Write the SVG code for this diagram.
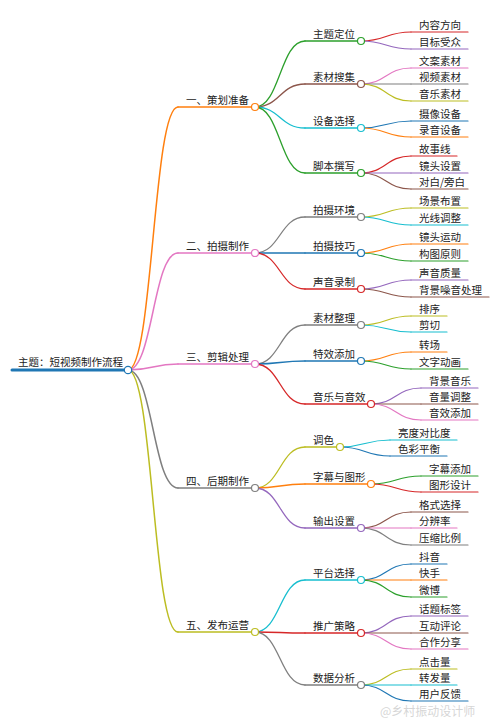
<svg xmlns="http://www.w3.org/2000/svg" width="500" height="721" viewBox="0 0 500 721">
<style>
text{font-family:"Noto Sans CJK SC","Noto Sans",sans-serif;font-size:10.5px;fill:#222}
path{fill:none;stroke-linecap:round}
.l1{stroke-width:1.5}
.l2{stroke-width:1.3}
.l3{stroke-width:1.2}
circle{fill:#fff;stroke-width:1.2}
.blue{stroke:#1f77b4}.orange{stroke:#ff7f0e}.green{stroke:#2ca02c}.red{stroke:#d62728}.purple{stroke:#9467bd}
.brown{stroke:#8c564b}.pink{stroke:#e377c2}.gray{stroke:#7f7f7f}.olive{stroke:#bcbd22}.cyan{stroke:#17becf}
.wm{font-size:12px;fill:#c8c8c8;fill-opacity:0.75}
</style>
<rect width="500" height="721" fill="#fff"/>
<g id="connectors">
<path class="l1 orange" d="M128,370 C153,370 153,107 178,107"/>
<path class="l1 pink" d="M128,370 C153,370 153,253 178,253"/>
<path class="l1 pink" d="M128,370 C153,370 153,364 178,364"/>
<path class="l1 gray" d="M128,370 C153,370 153,488 178,488"/>
<path class="l1 olive" d="M128,370 C153,370 153,632 178,632"/>
<path class="l2 green" d="M255,107 C280,107 280,41 305,41"/>
<path class="l2 brown" d="M255,107 C280,107 280,84 305,84"/>
<path class="l2 cyan" d="M255,107 C280,107 280,128 305,128"/>
<path class="l2 green" d="M255,107 C280,107 280,173 305,173"/>
<path class="l2 gray" d="M255,253 C280,253 280,217 305,217"/>
<path class="l2 blue" d="M255,253 C280,253 280,253 305,253"/>
<path class="l2 red" d="M255,253 C280,253 280,289 305,289"/>
<path class="l2 gray" d="M255,364 C280,364 280,325 305,325"/>
<path class="l2 blue" d="M255,364 C280,364 280,361 305,361"/>
<path class="l2 red" d="M255,364 C280,364 280,404 305,404"/>
<path class="l2 olive" d="M255,488 C280,488 280,447 305,447"/>
<path class="l2 orange" d="M255,488 C280,488 280,484 305,484"/>
<path class="l2 purple" d="M255,488 C280,488 280,528 305,528"/>
<path class="l2 cyan" d="M255,632 C280,632 280,580 305,580"/>
<path class="l2 red" d="M255,632 C280,632 280,633 305,633"/>
<path class="l2 gray" d="M255,632 C280,632 280,685 305,685"/>
<path class="l3 red" d="M361,41 C386,41 386,32 411,32"/>
<path class="l3 purple" d="M361,41 C386,41 386,49 411,49"/>
<path class="l3 pink" d="M361,84 C386,84 386,68 411,68"/>
<path class="l3 gray" d="M361,84 C386,84 386,84 411,84"/>
<path class="l3 olive" d="M361,84 C386,84 386,101 411,101"/>
<path class="l3 blue" d="M361,128 C386,128 386,121 411,121"/>
<path class="l3 orange" d="M361,128 C386,128 386,137 411,137"/>
<path class="l3 red" d="M361,173 C386,173 386,156 411,156"/>
<path class="l3 purple" d="M361,173 C386,173 386,173 411,173"/>
<path class="l3 brown" d="M361,173 C386,173 386,189 411,189"/>
<path class="l3 olive" d="M361,217 C386,217 386,208 411,208"/>
<path class="l3 cyan" d="M361,217 C386,217 386,225 411,225"/>
<path class="l3 orange" d="M361,253 C386,253 386,244 411,244"/>
<path class="l3 green" d="M361,253 C386,253 386,261 411,261"/>
<path class="l3 purple" d="M361,289 C386,289 386,280 411,280"/>
<path class="l3 brown" d="M361,289 C386,289 386,297 411,297"/>
<path class="l3 olive" d="M361,325 C386,325 386,316 411,316"/>
<path class="l3 cyan" d="M361,325 C386,325 386,332 411,332"/>
<path class="l3 orange" d="M361,361 C386,361 386,352 411,352"/>
<path class="l3 green" d="M361,361 C386,361 386,369 411,369"/>
<path class="l3 purple" d="M371,404 C396,404 396,388 421,388"/>
<path class="l3 brown" d="M371,404 C396,404 396,404 421,404"/>
<path class="l3 pink" d="M371,404 C396,404 396,420 421,420"/>
<path class="l3 cyan" d="M340,447 C365,447 365,440 390,440"/>
<path class="l3 blue" d="M340,447 C365,447 365,456 390,456"/>
<path class="l3 green" d="M371,484 C396,484 396,476 421,476"/>
<path class="l3 red" d="M371,484 C396,484 396,492 421,492"/>
<path class="l3 brown" d="M361,528 C386,528 386,512 411,512"/>
<path class="l3 pink" d="M361,528 C386,528 386,528 411,528"/>
<path class="l3 gray" d="M361,528 C386,528 386,545 411,545"/>
<path class="l3 blue" d="M361,580 C386,580 386,564 411,564"/>
<path class="l3 orange" d="M361,580 C386,580 386,580 411,580"/>
<path class="l3 green" d="M361,580 C386,580 386,597 411,597"/>
<path class="l3 purple" d="M361,633 C386,633 386,616 411,616"/>
<path class="l3 brown" d="M361,633 C386,633 386,633 411,633"/>
<path class="l3 pink" d="M361,633 C386,633 386,649 411,649"/>
<path class="l3 olive" d="M361,685 C386,685 386,669 411,669"/>
<path class="l3 cyan" d="M361,685 C386,685 386,685 411,685"/>
<path class="l3 blue" d="M361,685 C386,685 386,701 411,701"/>
</g>
<g id="root">
<path class="blue" stroke-width="3" d="M12,370 L124,370"/>
<text x="18" y="366">主题：短视频制作流程</text>
<circle class="blue" cx="128" cy="370" r="3.7"/>
</g>
<g id="n1"><path class="l1 orange" d="M178,107 L251.5,107"/><text x="186" y="104">一、策划准备</text><circle class="orange" cx="255" cy="107" r="3.5"/></g>
<g id="n2"><path class="l1 pink" d="M178,253 L251.5,253"/><text x="186" y="250">二、拍摄制作</text><circle class="pink" cx="255" cy="253" r="3.5"/></g>
<g id="n3"><path class="l1 pink" d="M178,364 L251.5,364"/><text x="186" y="361">三、剪辑处理</text><circle class="pink" cx="255" cy="364" r="3.5"/></g>
<g id="n4"><path class="l1 gray" d="M178,488 L251.5,488"/><text x="186" y="485">四、后期制作</text><circle class="gray" cx="255" cy="488" r="3.5"/></g>
<g id="n5"><path class="l1 olive" d="M178,632 L251.5,632"/><text x="186" y="629">五、发布运营</text><circle class="olive" cx="255" cy="632" r="3.5"/></g>

<g id="n1-1"><path class="l2 green" d="M305,41 L357.5,41"/><text x="313" y="38">主题定位</text><circle class="green" cx="361" cy="41" r="3.5"/></g>
<g id="n1-2"><path class="l2 brown" d="M305,84 L357.5,84"/><text x="313" y="81">素材搜集</text><circle class="brown" cx="361" cy="84" r="3.5"/></g>
<g id="n1-3"><path class="l2 cyan" d="M305,128 L357.5,128"/><text x="313" y="125">设备选择</text><circle class="cyan" cx="361" cy="128" r="3.5"/></g>
<g id="n1-4"><path class="l2 green" d="M305,173 L357.5,173"/><text x="313" y="170">脚本撰写</text><circle class="green" cx="361" cy="173" r="3.5"/></g>
<g id="n2-1"><path class="l2 gray" d="M305,217 L357.5,217"/><text x="313" y="214">拍摄环境</text><circle class="gray" cx="361" cy="217" r="3.5"/></g>
<g id="n2-2"><path class="l2 blue" d="M305,253 L357.5,253"/><text x="313" y="250">拍摄技巧</text><circle class="blue" cx="361" cy="253" r="3.5"/></g>
<g id="n2-3"><path class="l2 red" d="M305,289 L357.5,289"/><text x="313" y="286">声音录制</text><circle class="red" cx="361" cy="289" r="3.5"/></g>
<g id="n3-1"><path class="l2 gray" d="M305,325 L357.5,325"/><text x="313" y="322">素材整理</text><circle class="gray" cx="361" cy="325" r="3.5"/></g>
<g id="n3-2"><path class="l2 blue" d="M305,361 L357.5,361"/><text x="313" y="358">特效添加</text><circle class="blue" cx="361" cy="361" r="3.5"/></g>
<g id="n3-3"><path class="l2 red" d="M305,404 L367.5,404"/><text x="313" y="401">音乐与音效</text><circle class="red" cx="371" cy="404" r="3.5"/></g>
<g id="n4-1"><path class="l2 olive" d="M305,447 L336.5,447"/><text x="313" y="444">调色</text><circle class="olive" cx="340" cy="447" r="3.5"/></g>
<g id="n4-2"><path class="l2 orange" d="M305,484 L367.5,484"/><text x="313" y="481">字幕与图形</text><circle class="orange" cx="371" cy="484" r="3.5"/></g>
<g id="n4-3"><path class="l2 purple" d="M305,528 L357.5,528"/><text x="313" y="525">输出设置</text><circle class="purple" cx="361" cy="528" r="3.5"/></g>
<g id="n5-1"><path class="l2 cyan" d="M305,580 L357.5,580"/><text x="313" y="577">平台选择</text><circle class="cyan" cx="361" cy="580" r="3.5"/></g>
<g id="n5-2"><path class="l2 red" d="M305,633 L357.5,633"/><text x="313" y="630">推广策略</text><circle class="red" cx="361" cy="633" r="3.5"/></g>
<g id="n5-3"><path class="l2 gray" d="M305,685 L357.5,685"/><text x="313" y="682">数据分析</text><circle class="gray" cx="361" cy="685" r="3.5"/></g>

<g id="leaves">
<g id="l-1"><path class="l3 red" d="M411,32 L468,32"/><text x="419" y="29">内容方向</text></g>
<g id="l-2"><path class="l3 purple" d="M411,49 L468,49"/><text x="419" y="46">目标受众</text></g>
<g id="l-3"><path class="l3 pink" d="M411,68 L468,68"/><text x="419" y="65">文案素材</text></g>
<g id="l-4"><path class="l3 gray" d="M411,84 L468,84"/><text x="419" y="81">视频素材</text></g>
<g id="l-5"><path class="l3 olive" d="M411,101 L468,101"/><text x="419" y="98">音乐素材</text></g>
<g id="l-6"><path class="l3 blue" d="M411,121 L468,121"/><text x="419" y="118">摄像设备</text></g>
<g id="l-7"><path class="l3 orange" d="M411,137 L468,137"/><text x="419" y="134">录音设备</text></g>
<g id="l-8"><path class="l3 red" d="M411,156 L457,156"/><text x="419" y="153">故事线</text></g>
<g id="l-9"><path class="l3 purple" d="M411,173 L468,173"/><text x="419" y="170">镜头设置</text></g>
<g id="l-10"><path class="l3 brown" d="M411,189 L468,189"/><text x="419" y="186">对白/旁白</text></g>
<g id="l-11"><path class="l3 olive" d="M411,208 L468,208"/><text x="419" y="205">场景布置</text></g>
<g id="l-12"><path class="l3 cyan" d="M411,225 L468,225"/><text x="419" y="222">光线调整</text></g>
<g id="l-13"><path class="l3 orange" d="M411,244 L468,244"/><text x="419" y="241">镜头运动</text></g>
<g id="l-14"><path class="l3 green" d="M411,261 L468,261"/><text x="419" y="258">构图原则</text></g>
<g id="l-15"><path class="l3 purple" d="M411,280 L468,280"/><text x="419" y="277">声音质量</text></g>
<g id="l-16"><path class="l3 brown" d="M411,297 L489,297"/><text x="419" y="294">背景噪音处理</text></g>
<g id="l-17"><path class="l3 olive" d="M411,316 L447,316"/><text x="419" y="313">排序</text></g>
<g id="l-18"><path class="l3 cyan" d="M411,332 L447,332"/><text x="419" y="329">剪切</text></g>
<g id="l-19"><path class="l3 orange" d="M411,352 L447,352"/><text x="419" y="349">转场</text></g>
<g id="l-20"><path class="l3 green" d="M411,369 L468,369"/><text x="419" y="366">文字动画</text></g>
<g id="l-21"><path class="l3 purple" d="M421,388 L478,388"/><text x="429" y="385">背景音乐</text></g>
<g id="l-22"><path class="l3 brown" d="M421,404 L478,404"/><text x="429" y="401">音量调整</text></g>
<g id="l-23"><path class="l3 pink" d="M421,420 L478,420"/><text x="429" y="417">音效添加</text></g>
<g id="l-24"><path class="l3 cyan" d="M390,440 L457,440"/><text x="398" y="437">亮度对比度</text></g>
<g id="l-25"><path class="l3 blue" d="M390,456 L447,456"/><text x="398" y="453">色彩平衡</text></g>
<g id="l-26"><path class="l3 green" d="M421,476 L478,476"/><text x="429" y="473">字幕添加</text></g>
<g id="l-27"><path class="l3 red" d="M421,492 L478,492"/><text x="429" y="489">图形设计</text></g>
<g id="l-28"><path class="l3 brown" d="M411,512 L468,512"/><text x="419" y="509">格式选择</text></g>
<g id="l-29"><path class="l3 pink" d="M411,528 L457,528"/><text x="419" y="525">分辨率</text></g>
<g id="l-30"><path class="l3 gray" d="M411,545 L468,545"/><text x="419" y="542">压缩比例</text></g>
<g id="l-31"><path class="l3 blue" d="M411,564 L447,564"/><text x="419" y="561">抖音</text></g>
<g id="l-32"><path class="l3 orange" d="M411,580 L447,580"/><text x="419" y="577">快手</text></g>
<g id="l-33"><path class="l3 green" d="M411,597 L447,597"/><text x="419" y="594">微博</text></g>
<g id="l-34"><path class="l3 purple" d="M411,616 L468,616"/><text x="419" y="613">话题标签</text></g>
<g id="l-35"><path class="l3 brown" d="M411,633 L468,633"/><text x="419" y="630">互动评论</text></g>
<g id="l-36"><path class="l3 pink" d="M411,649 L468,649"/><text x="419" y="646">合作分享</text></g>
<g id="l-37"><path class="l3 olive" d="M411,669 L457,669"/><text x="419" y="666">点击量</text></g>
<g id="l-38"><path class="l3 cyan" d="M411,685 L457,685"/><text x="419" y="682">转发量</text></g>
<g id="l-39"><path class="l3 blue" d="M411,701 L468,701"/><text x="419" y="698">用户反馈</text></g>
</g>
<text class="wm" x="380" y="716">@乡村振动设计师</text>
</svg>
